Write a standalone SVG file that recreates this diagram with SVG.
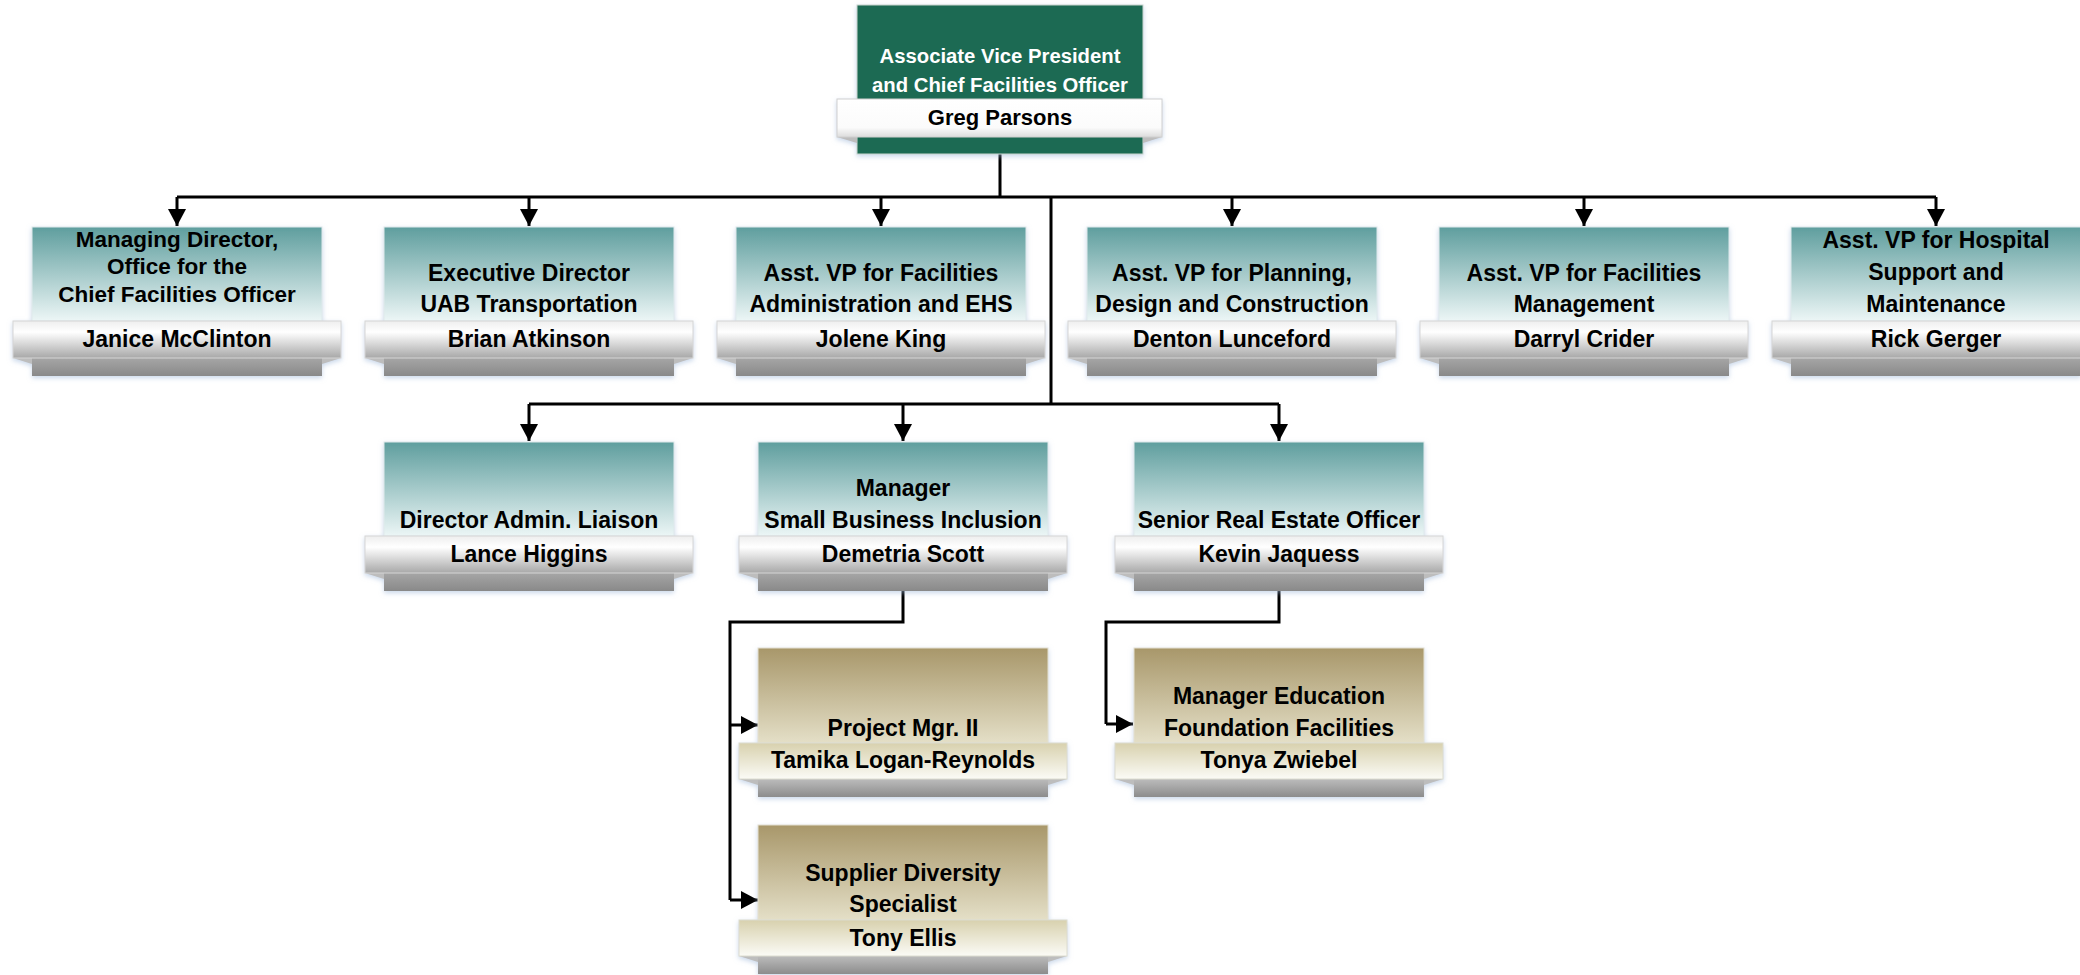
<svg xmlns="http://www.w3.org/2000/svg" width="2080" height="975" viewBox="0 0 2080 975">
<defs>
<linearGradient id="gTeal" x1="0" y1="0" x2="0" y2="1">
<stop offset="0" stop-color="#5f9e9e"/><stop offset="1" stop-color="#ecf6f6"/>
</linearGradient>
<linearGradient id="gTan" x1="0" y1="0" x2="0" y2="1">
<stop offset="0" stop-color="#a8976a"/><stop offset="1" stop-color="#e4dfc7"/>
</linearGradient>
<linearGradient id="gBand" x1="0" y1="0" x2="0" y2="1">
<stop offset="0" stop-color="#eeeeee"/><stop offset="0.3" stop-color="#ffffff"/><stop offset="1" stop-color="#a8a8a8"/>
</linearGradient>
<linearGradient id="gTanBand" x1="0" y1="0" x2="0" y2="1">
<stop offset="0" stop-color="#d8d1ae"/><stop offset="1" stop-color="#fbfbf6"/>
</linearGradient>
<linearGradient id="gTopBand" x1="0" y1="0" x2="0" y2="1">
<stop offset="0" stop-color="#ffffff"/><stop offset="0.75" stop-color="#fbfbfb"/><stop offset="1" stop-color="#dcdcdc"/>
</linearGradient>
<linearGradient id="gBase" x1="0" y1="0" x2="0" y2="1">
<stop offset="0" stop-color="#a6a6a6"/><stop offset="1" stop-color="#898989"/>
</linearGradient>
<linearGradient id="gTanBase" x1="0" y1="0" x2="0" y2="1">
<stop offset="0" stop-color="#bcbcbc"/><stop offset="1" stop-color="#8c8c8c"/>
</linearGradient>
<filter id="sh" x="-10%" y="-10%" width="120%" height="130%">
<feDropShadow dx="0" dy="2" stdDeviation="2.5" flood-color="#9db7d9" flood-opacity="0.55"/>
</filter>
<marker id="arr" markerUnits="userSpaceOnUse" markerWidth="18" markerHeight="18" viewBox="0 0 18 18" refX="17" refY="9" orient="auto">
<path d="M0,0 L17,9 L0,18 z" fill="#000"/>
</marker>
<style>
.teal{fill:url(#gTeal);stroke:#dfe9ec;stroke-width:1}
.tan{fill:url(#gTan);stroke:#e3e0d2;stroke-width:1}
.band{fill:url(#gBand);stroke:#d6d6d6;stroke-width:1}
.tband{fill:url(#gTanBand);stroke:#dcdccf;stroke-width:1}
.base{fill:url(#gBase)}
.tbase{fill:url(#gTanBase)}
.fold{fill:#bdbdbd}
.t{font-family:"Liberation Sans",Arial,sans-serif;font-weight:bold;font-size:23px;fill:#000;text-anchor:middle}
.s{font-size:22.5px}
.w{fill:#ffffff;font-size:20.3px}
.n{font-size:22px}
.c{fill:none;stroke:#000;stroke-width:3}
.ca{fill:none;stroke:#000;stroke-width:3;marker-end:url(#arr)}
</style>
</defs>

<g id="connectors">
<path class="c" d="M1000,154 V197 M177,197 H1936 M1051,197 V404 M529,404 H1279"/>
<path class="ca" d="M177,197 V226"/>
<path class="ca" d="M529,197 V226"/>
<path class="ca" d="M881,197 V226"/>
<path class="ca" d="M1232,197 V226"/>
<path class="ca" d="M1584,197 V226"/>
<path class="ca" d="M1936,197 V226"/>
<path class="ca" d="M529,404 V441"/>
<path class="ca" d="M903,404 V441"/>
<path class="ca" d="M1279,404 V441"/>
<path class="c" d="M903,591 V622 H730 V900"/>
<path class="ca" d="M730,725 H758"/>
<path class="ca" d="M730,900 H758"/>
<path class="c" d="M1279,591 V622 H1106 V724"/>
<path class="ca" d="M1106,724 H1133"/>
</g>

<g id="n-parsons">
<g filter="url(#sh)">
<rect x="857" y="5" width="286" height="149" fill="#1f6b52" stroke="#c9d6d0" stroke-width="1"/>
<polygon class="fold" points="837,137 857,137 857,143"/>
<polygon class="fold" points="1162,137 1143,137 1143,143"/>
<rect x="837" y="99" width="325" height="38" fill="url(#gTopBand)" stroke="#d0d0d0" stroke-width="1"/>
</g>
<text class="t w" x="1000" y="63">Associate Vice President</text>
<text class="t w" x="1000" y="92">and Chief Facilities Officer</text>
<text class="t n" x="1000" y="125">Greg Parsons</text>
</g>

<g id="n-mcclinton" transform="translate(177,227)">
<g filter="url(#sh)"><rect class="teal" x="-145" y="0" width="290" height="94"/><rect class="base" x="-145" y="131" width="290" height="18"/><polygon class="fold" points="-164,131 -145,131 -145,137"/><polygon class="fold" points="164,131 145,131 145,137"/><rect class="band" x="-164" y="94" width="328" height="37"/></g>
<text class="t s" x="0" y="20">Managing Director,</text>
<text class="t s" x="0" y="47">Office for the</text>
<text class="t s" x="0" y="75">Chief Facilities Officer</text>
<text class="t" x="0" y="120">Janice McClinton</text>
</g>

<g id="n-atkinson" transform="translate(529,227)">
<g filter="url(#sh)"><rect class="teal" x="-145" y="0" width="290" height="94"/><rect class="base" x="-145" y="131" width="290" height="18"/><polygon class="fold" points="-164,131 -145,131 -145,137"/><polygon class="fold" points="164,131 145,131 145,137"/><rect class="band" x="-164" y="94" width="328" height="37"/></g>
<text class="t" x="0" y="54">Executive Director</text>
<text class="t" x="0" y="85">UAB Transportation</text>
<text class="t" x="0" y="120">Brian Atkinson</text>
</g>

<g id="n-king" transform="translate(881,227)">
<g filter="url(#sh)"><rect class="teal" x="-145" y="0" width="290" height="94"/><rect class="base" x="-145" y="131" width="290" height="18"/><polygon class="fold" points="-164,131 -145,131 -145,137"/><polygon class="fold" points="164,131 145,131 145,137"/><rect class="band" x="-164" y="94" width="328" height="37"/></g>
<text class="t" x="0" y="54">Asst. VP for Facilities</text>
<text class="t" x="0" y="85">Administration and EHS</text>
<text class="t" x="0" y="120">Jolene King</text>
</g>

<g id="n-lunceford" transform="translate(1232,227)">
<g filter="url(#sh)"><rect class="teal" x="-145" y="0" width="290" height="94"/><rect class="base" x="-145" y="131" width="290" height="18"/><polygon class="fold" points="-164,131 -145,131 -145,137"/><polygon class="fold" points="164,131 145,131 145,137"/><rect class="band" x="-164" y="94" width="328" height="37"/></g>
<text class="t" x="0" y="54">Asst. VP for Planning,</text>
<text class="t" x="0" y="85">Design and Construction</text>
<text class="t" x="0" y="120">Denton Lunceford</text>
</g>

<g id="n-crider" transform="translate(1584,227)">
<g filter="url(#sh)"><rect class="teal" x="-145" y="0" width="290" height="94"/><rect class="base" x="-145" y="131" width="290" height="18"/><polygon class="fold" points="-164,131 -145,131 -145,137"/><polygon class="fold" points="164,131 145,131 145,137"/><rect class="band" x="-164" y="94" width="328" height="37"/></g>
<text class="t" x="0" y="54">Asst. VP for Facilities</text>
<text class="t" x="0" y="85">Management</text>
<text class="t" x="0" y="120">Darryl Crider</text>
</g>

<g id="n-gerger" transform="translate(1936,227)">
<g filter="url(#sh)"><rect class="teal" x="-145" y="0" width="290" height="94"/><rect class="base" x="-145" y="131" width="290" height="18"/><polygon class="fold" points="-164,131 -145,131 -145,137"/><polygon class="fold" points="164,131 145,131 145,137"/><rect class="band" x="-164" y="94" width="328" height="37"/></g>
<text class="t" x="0" y="21">Asst. VP for Hospital</text>
<text class="t" x="0" y="53">Support and</text>
<text class="t" x="0" y="85">Maintenance</text>
<text class="t" x="0" y="120">Rick Gerger</text>
</g>

<g id="n-higgins" transform="translate(529,442)">
<g filter="url(#sh)"><rect class="teal" x="-145" y="0" width="290" height="94"/><rect class="base" x="-145" y="131" width="290" height="18"/><polygon class="fold" points="-164,131 -145,131 -145,137"/><polygon class="fold" points="164,131 145,131 145,137"/><rect class="band" x="-164" y="94" width="328" height="37"/></g>
<text class="t" x="0" y="86">Director Admin. Liaison</text>
<text class="t" x="0" y="120">Lance Higgins</text>
</g>

<g id="n-scott" transform="translate(903,442)">
<g filter="url(#sh)"><rect class="teal" x="-145" y="0" width="290" height="94"/><rect class="base" x="-145" y="131" width="290" height="18"/><polygon class="fold" points="-164,131 -145,131 -145,137"/><polygon class="fold" points="164,131 145,131 145,137"/><rect class="band" x="-164" y="94" width="328" height="37"/></g>
<text class="t" x="0" y="54">Manager</text>
<text class="t" x="0" y="86">Small Business Inclusion</text>
<text class="t" x="0" y="120">Demetria Scott</text>
</g>

<g id="n-jaquess" transform="translate(1279,442)">
<g filter="url(#sh)"><rect class="teal" x="-145" y="0" width="290" height="94"/><rect class="base" x="-145" y="131" width="290" height="18"/><polygon class="fold" points="-164,131 -145,131 -145,137"/><polygon class="fold" points="164,131 145,131 145,137"/><rect class="band" x="-164" y="94" width="328" height="37"/></g>
<text class="t" x="0" y="86">Senior Real Estate Officer</text>
<text class="t" x="0" y="120">Kevin Jaquess</text>
</g>

<g id="n-logan-reynolds" transform="translate(903,648)">
<g filter="url(#sh)"><rect class="tan" x="-145" y="0" width="290" height="95"/><rect class="tbase" x="-145" y="131" width="290" height="18"/><polygon class="fold" points="-164,131 -145,131 -145,137"/><polygon class="fold" points="164,131 145,131 145,137"/><rect class="tband" x="-164" y="95" width="328" height="36"/></g>
<text class="t" x="0" y="88">Project Mgr. II</text>
<text class="t" x="0" y="120">Tamika Logan-Reynolds</text>
</g>

<g id="n-ellis" transform="translate(903,825)">
<g filter="url(#sh)"><rect class="tan" x="-145" y="0" width="290" height="95"/><rect class="tbase" x="-145" y="131" width="290" height="18"/><polygon class="fold" points="-164,131 -145,131 -145,137"/><polygon class="fold" points="164,131 145,131 145,137"/><rect class="tband" x="-164" y="95" width="328" height="36"/></g>
<text class="t" x="0" y="56">Supplier Diversity</text>
<text class="t" x="0" y="87">Specialist</text>
<text class="t" x="0" y="121">Tony Ellis</text>
</g>

<g id="n-zwiebel" transform="translate(1279,648)">
<g filter="url(#sh)"><rect class="tan" x="-145" y="0" width="290" height="95"/><rect class="tbase" x="-145" y="131" width="290" height="18"/><polygon class="fold" points="-164,131 -145,131 -145,137"/><polygon class="fold" points="164,131 145,131 145,137"/><rect class="tband" x="-164" y="95" width="328" height="36"/></g>
<text class="t" x="0" y="56">Manager Education</text>
<text class="t" x="0" y="88">Foundation Facilities</text>
<text class="t" x="0" y="120">Tonya Zwiebel</text>
</g>
</svg>
